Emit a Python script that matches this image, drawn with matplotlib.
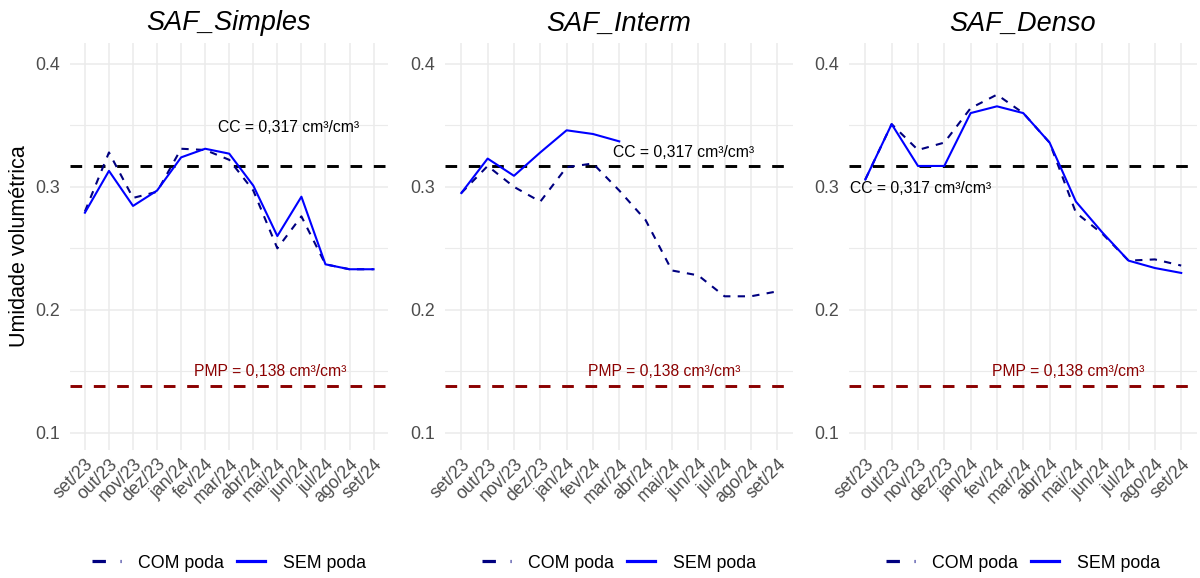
import matplotlib
matplotlib.use("Agg")
import matplotlib.pyplot as plt
from matplotlib.lines import Line2D

plt.rcParams['font.family'] = ['Liberation Sans', 'DejaVu Sans']

meses = ["set/23", "out/23", "nov/23", "dez/23", "jan/24", "fev/24", "mar/24",
         "abr/24", "mai/24", "jun/24", "jul/24", "ago/24", "set/24"]

# umidade volumetrica (cm3/cm3)
simples_com = [0.280, 0.328, 0.291, 0.296, 0.331, 0.330, 0.322, 0.297, 0.250, 0.276, 0.237, 0.233, 0.233]
simples_sem = [0.279, 0.313, 0.2845, 0.297, 0.324, 0.331, 0.327, 0.301, 0.260, 0.292, 0.237, 0.233, 0.233]

interm_com = [0.295, 0.317, 0.300, 0.288, 0.316, 0.319, 0.297, 0.273, 0.232, 0.228, 0.211, 0.211, 0.215]
interm_sem = [0.295, 0.323, 0.309, 0.328, 0.346, 0.343, 0.337]

denso_com = [0.306, 0.351, 0.330, 0.336, 0.364, 0.375, 0.360, 0.336, 0.279, 0.262, 0.240, 0.241, 0.236]
denso_sem = [0.306, 0.351, 0.317, 0.317, 0.360, 0.3655, 0.360, 0.336, 0.288, 0.263, 0.240, 0.234, 0.230]

CC = 0.317
PMP = 0.138

paineis = [
    ("SAF_Simples", simples_com, simples_sem, (8.45, 0.348), (7.7, 0.150)),
    ("SAF_Interm", interm_com, interm_sem, (8.45, 0.328), (7.7, 0.150)),
    ("SAF_Denso", denso_com, denso_sem, (2.1, 0.299), (7.7, 0.150)),
]

W, H = 1200, 578
fig = plt.figure(figsize=(W / 100, H / 100), dpi=100)
caixas = [(70, 318), (445, 348), (849, 348)]
topo, base = 43, 450

cinza = "#4D4D4D"
grade = "#EBEBEB"
azul_escuro = "#000080"
azul = "#0000FF"

# chaves da legenda (mais grossas, como no ggplot)
chaves = [Line2D([], [], color=azul_escuro, lw=2.3, dashes=(4.2, 4.6)),
          Line2D([], [], color=azul, lw=2.3)]

for i, (titulo, com, sem, pos_cc, pos_pmp) in enumerate(paineis):
    x0, w = caixas[i]
    ax = fig.add_axes([x0 / W, (H - base) / H, w / W, (base - topo) / H])

    ax.axhline(CC, color="black", lw=2.1, dashes=(4, 4), zorder=2)
    ax.axhline(PMP, color="#8B0000", lw=2.1, dashes=(4, 4), zorder=2)

    ax.plot(range(len(com)), com, color=azul_escuro, lw=1.5, dashes=(3.5, 3.5), zorder=3)
    ax.plot(range(len(sem)), sem, color=azul, lw=1.5, zorder=3)

    ax.text(pos_cc[0], pos_cc[1], "CC = 0,317 cm³/cm³", ha="center", va="center",
            fontsize=11.3, color="black", zorder=4)
    ax.text(pos_pmp[0], pos_pmp[1], "PMP = 0,138 cm³/cm³", ha="center", va="center",
            fontsize=11.3, color="#8B0000", zorder=4)

    ax.set_xlim(-0.62, 12.6)
    ax.set_ylim(0.086, 0.417)
    ax.set_xticks(range(len(meses)))
    ax.set_xticklabels(meses, rotation=45, ha="right", va="top",
                       rotation_mode="anchor", fontsize=12.8, color=cinza)
    ax.set_yticks([0.1, 0.2, 0.3, 0.4])
    ax.set_yticklabels(["0.1", "0.2", "0.3", "0.4"], fontsize=12.8, color=cinza)
    ax.set_yticks([0.15, 0.25, 0.35], minor=True)
    ax.tick_params(axis="both", which="both", length=0)
    ax.tick_params(axis="y", pad=7)
    ax.tick_params(axis="x", pad=4)
    ax.grid(True, which="major", color=grade, lw=1.1)
    ax.grid(True, which="minor", axis="y", color=grade, lw=0.8)
    ax.set_axisbelow(True)
    for s in ax.spines.values():
        s.set_visible(False)

    ax.set_title(titulo, fontsize=19.5, style="italic", pad=9)
    if i == 0:
        ax.set_ylabel("Umidade volumétrica", fontsize=15.5, labelpad=4)

    ax.legend(chaves, ["COM poda", "SEM poda"], loc="center",
              bbox_to_anchor=(0.5, -0.278), ncol=2, frameon=False,
              fontsize=12.8, handlelength=1.6, columnspacing=0.7, handletextpad=1.0)

fig.savefig("out.png", dpi=100, facecolor="white")
